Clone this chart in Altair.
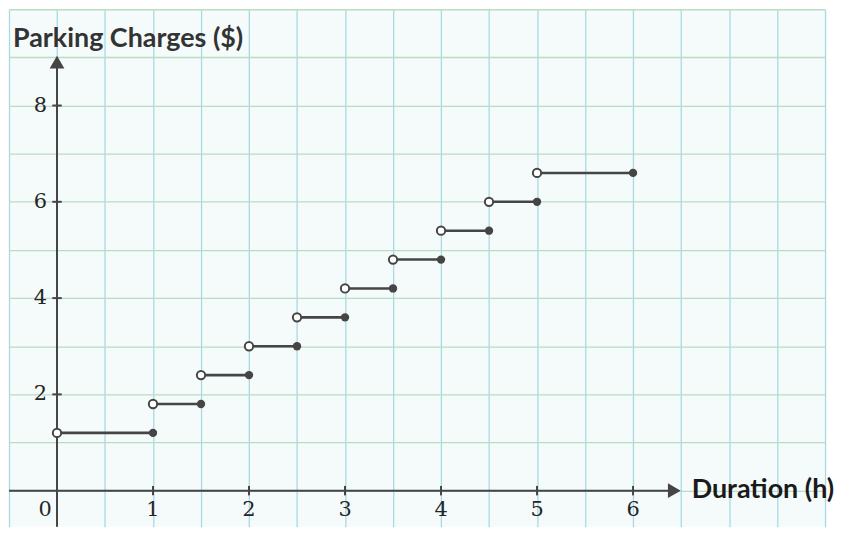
import altair as alt
import pandas as pd
import numpy as np

# Step function: parking charges
seg_start = [0, 1, 1.5, 2, 2.5, 3, 3.5, 4, 4.5, 5]
seg_end = [1, 1.5, 2, 2.5, 3, 3.5, 4, 4.5, 5, 6]
charges = [1.2, 1.8, 2.4, 3.0, 3.6, 4.2, 4.8, 5.4, 6.0, 6.6]

x_ticks = [1, 2, 3, 4, 5, 6]
y_ticks = [2, 4, 6, 8]

segs = pd.DataFrame({"x": seg_start, "x2": seg_end, "y": charges})
open_pts = pd.DataFrame({"x": seg_start, "y": charges})
closed_pts = pd.DataFrame({"x": seg_end, "y": charges})
xt = pd.DataFrame({"v": x_ticks, "z": [0] * len(x_ticks), "t": [str(v) for v in x_ticks]})
yt = pd.DataFrame({"v": y_ticks, "z": [0] * len(y_ticks), "t": [str(v) for v in y_ticks]})

XMIN, XMAX = -0.5, 8
YMIN, YMAX = -0.75, 10
xs = alt.Scale(domain=[XMIN, XMAX], nice=False, zero=False)
ys = alt.Scale(domain=[YMIN, YMAX], nice=False, zero=False)

grid_x = [float(v) for v in np.arange(-0.5, 8.01, 0.5)]
grid_y = [float(v) for v in np.arange(-1, 10.01, 1)]

INK = "#454545"
axis_x = alt.Axis(values=grid_x, grid=True, gridColor="#a8d9e6", gridWidth=1.3,
                  domain=False, ticks=False, labels=False, title=None)
axis_y = alt.Axis(values=grid_y, grid=True, gridColor="#b9dcc3", gridWidth=1.3,
                  domain=False, ticks=False, labels=False, title=None)

base_grid = alt.Chart(pd.DataFrame({"x": [0], "y": [0]})).mark_point(opacity=0).encode(
    x=alt.X("x:Q", scale=xs, axis=axis_x),
    y=alt.Y("y:Q", scale=ys, axis=axis_y),
)

one = pd.DataFrame({"a": [0]})

x_axis_line = alt.Chart(pd.DataFrame({"x": [XMIN], "x2": [6.4], "y": [0]})).mark_rule(
    color=INK, strokeWidth=2).encode(x=alt.X("x:Q", scale=xs), x2="x2:Q", y=alt.Y("y:Q", scale=ys))
y_axis_line = alt.Chart(pd.DataFrame({"x": [0], "y": [YMIN], "y2": [8.85]})).mark_rule(
    color=INK, strokeWidth=2).encode(x=alt.X("x:Q", scale=xs), y=alt.Y("y:Q", scale=ys), y2="y2:Q")

arrow_x = alt.Chart(pd.DataFrame({"x": [6.43], "y": [0]})).mark_point(
    shape="triangle-right", filled=True, color=INK, size=220, opacity=1).encode(
    x=alt.X("x:Q", scale=xs), y=alt.Y("y:Q", scale=ys))
arrow_y = alt.Chart(pd.DataFrame({"x": [0], "y": [8.9]})).mark_point(
    shape="triangle-up", filled=True, color=INK, size=220, opacity=1).encode(
    x=alt.X("x:Q", scale=xs), y=alt.Y("y:Q", scale=ys))

xtick_marks = alt.Chart(xt).mark_point(shape="M0,-1L0,1", filled=False, stroke=INK,
                                       strokeWidth=2, size=90, opacity=1).encode(
    x=alt.X("v:Q", scale=xs), y=alt.Y("z:Q", scale=ys))
ytick_marks = alt.Chart(yt).mark_point(shape="M-1,0L1,0", filled=False, stroke=INK,
                                       strokeWidth=2, size=90, opacity=1).encode(
    x=alt.X("z:Q", scale=xs), y=alt.Y("v:Q", scale=ys))

lab_font = "DejaVu Serif"
LAB = "#262626"
xlabels = alt.Chart(xt).mark_text(font=lab_font, fontSize=21, color=LAB, dy=19).encode(
    x=alt.X("v:Q", scale=xs), y=alt.Y("z:Q", scale=ys), text="t:N")
zero_label = alt.Chart(pd.DataFrame({"v": [0], "t": ["0"]})).mark_text(
    font=lab_font, fontSize=21, color=LAB, dy=19, dx=-12).encode(
    x=alt.X("v:Q", scale=xs), y=alt.Y("v:Q", scale=ys), text="t:N")
ylabels = alt.Chart(yt).mark_text(font=lab_font, fontSize=21, color=LAB, dx=-10,
                                  align="right", baseline="middle").encode(
    x=alt.X("z:Q", scale=xs), y=alt.Y("v:Q", scale=ys), text="t:N")

title_font = "Lato"
y_title = alt.Chart(one).mark_text(text="Parking Charges ($)", font=title_font, fontWeight="bold",
                                   fontSize=27, color="#333333", align="left", baseline="alphabetic").encode(
    x=alt.value(4), y=alt.value(38))
x_title = alt.Chart(one).mark_text(text="Duration (h)", font=title_font, fontWeight="bold",
                                   fontSize=27, color="#1a1a1a", align="left", baseline="alphabetic").encode(
    x=alt.value(686), y=alt.value(491))

steps = alt.Chart(segs).mark_rule(color=INK, strokeWidth=2.6).encode(
    x=alt.X("x:Q", scale=xs), x2="x2:Q", y=alt.Y("y:Q", scale=ys))
opens = alt.Chart(open_pts).mark_point(shape="circle", filled=True, fill="white", stroke=INK,
                                       strokeWidth=2, size=70, opacity=1).encode(
    x=alt.X("x:Q", scale=xs), y=alt.Y("y:Q", scale=ys))
closeds = alt.Chart(closed_pts).mark_point(shape="circle", filled=True, color=INK,
                                           size=70, opacity=1).encode(
    x=alt.X("x:Q", scale=xs), y=alt.Y("y:Q", scale=ys))

chart = alt.layer(
    base_grid, x_axis_line, y_axis_line, arrow_x, arrow_y, xtick_marks, ytick_marks,
    xlabels, zero_label, ylabels, steps, opens, closeds, y_title, x_title,
).properties(
    width=820, height=520, padding=0,
).configure_view(
    fill="#f5fbfb", stroke=None,
)

chart.save("out.html", embed_options={"renderer": "svg", "actions": False})
